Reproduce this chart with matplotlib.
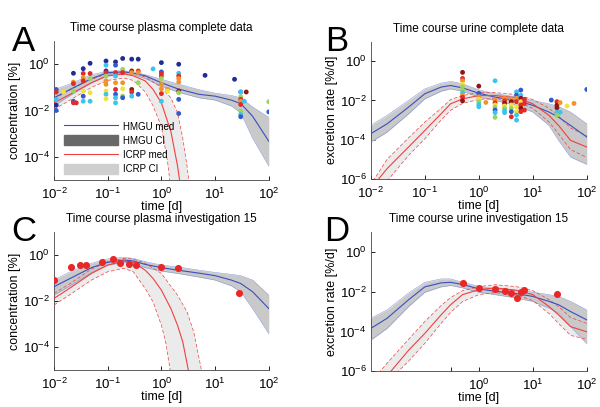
import numpy as np
import matplotlib
matplotlib.use("Agg")
import matplotlib.pyplot as plt
from matplotlib.lines import Line2D
from matplotlib.patches import Patch

plt.rcParams['font.family'] = ['Liberation Sans', 'DejaVu Sans']
plt.rcParams['mathtext.fontset'] = 'custom'
plt.rcParams['mathtext.rm'] = 'Liberation Sans'
plt.rcParams['mathtext.it'] = 'Liberation Sans:italic'

# all curve / point values below are log10 of the plotted quantity
t_grid = [0.01, 0.02, 0.05, 0.1, 0.2, 0.3, 0.5, 1, 2, 5, 10, 20, 30, 50, 100]

# panel A - plasma complete data
a_hmgu_med = [-1.45, -1.09, -0.62, -0.36, -0.33, -0.39, -0.5, -0.8, -1.06, -1.3, -1.38, -1.55, -1.7, -2.25, -3.33]
a_hmgu_hi = [-1.1, -0.85, -0.45, -0.3, -0.28, -0.33, -0.45, -0.65, -0.85, -1.1, -1.25, -1.35, -1.45, -1.85, -2.3]
a_hmgu_lo = [-1.8, -1.35, -0.8, -0.45, -0.4, -0.45, -0.62, -0.95, -1.2, -1.45, -1.55, -1.8, -2.1, -3.2, -4.4]
a_icrp_med_t = [0.01, 0.02, 0.05, 0.1, 0.2, 0.3, 0.5, 0.7, 1, 1.5, 2, 2.3]
a_icrp_med = [-1.67, -1.3, -0.8, -0.5, -0.42, -0.5, -0.72, -1.09, -1.67, -2.9, -4.4, -5.4]
a_icrp_hi_t = [0.01, 0.02, 0.05, 0.1, 0.2, 0.3, 0.5, 1, 1.5, 2, 2.5, 3, 3.4]
a_icrp_hi = [-1.5, -1.1, -0.65, -0.4, -0.32, -0.38, -0.55, -1.0, -1.45, -2.1, -3.2, -4.4, -5.4]
a_icrp_lo_t = [0.01, 0.02, 0.05, 0.1, 0.2, 0.3, 0.5, 0.7, 1, 1.3, 1.5]
a_icrp_lo = [-1.95, -1.55, -1.0, -0.7, -0.6, -0.7, -1.2, -1.8, -2.7, -4.2, -5.4]

a_pts_t = [0.011, 0.011, 0.011, 0.011, 0.011, 0.015,
           0.023, 0.023, 0.023, 0.023, 0.023, 0.023, 0.026,
           0.035, 0.035, 0.035, 0.035, 0.035, 0.035, 0.035,
           0.047, 0.047, 0.047, 0.047, 0.047,
           0.093, 0.093, 0.093, 0.093, 0.093, 0.093, 0.093, 0.093, 0.093, 0.093,
           0.14, 0.14, 0.14, 0.14, 0.14, 0.14, 0.14, 0.14, 0.14,
           0.19, 0.19, 0.19, 0.19, 0.19, 0.19, 0.19,
           0.28, 0.28, 0.28, 0.28, 0.28, 0.28,
           0.37, 0.37, 0.37, 0.37, 0.37,
           0.7,
           1.0, 1.0, 1.0, 1.0, 1.0, 1.0, 1.0, 1.0, 1.0, 1.3, 1.3,
           2.1, 2.1, 2.1, 2.1, 2.1, 2.1, 2.1, 2.1, 2.1,
           6.5, 23,
           30, 30, 30, 30, 30, 30, 30, 30, 30, 35, 38,
           100, 100]
a_pts_v = [-1.09, -1.2, -1.52, -1.77, -2.0, -1.2,
           -0.39, -0.77, -0.84, -1.16, -1.6, -1.67, -1.67,
           -0.19, -0.4, -0.58, -0.72, -1.16, -1.38, -1.6,
           0.04, -0.4, -0.62, -1.23, -1.6,
           0.14, -0.04, -0.29, -0.36, -0.51, -0.72, -0.87, -1.16, -1.3, -1.49,
           0.1, -0.04, -0.36, -0.51, -0.8, -1.09, -1.3, -1.45, -1.67,
           0.25, -0.22, -0.36, -0.8, -1.06, -1.38, -1.45,
           0.22, -0.29, -0.36, -1.09, -1.2, -1.38,
           0.22, -0.29, -0.36, -0.8, -1.3,
           -0.2,
           0.07, -0.33, -0.4, -0.51, -0.62, -0.87, -1.06, -1.27, -1.6, -1.09, -1.16,
           0.0, -0.39, -0.51, -0.62, -0.77, -1.16, -1.23, -1.52, -2.13,
           -0.48, -0.65,
           -1.2, -1.2, -1.41, -1.52, -1.6, -1.74, -2.03, -2.17, -2.27, -1.6, -1.2,
           -1.62, -2.06]
a_pts_c = ['b', 'r', 'c', 'db', 'b', 'y',
           'db', 'o', 'r', 'g', 'b', 'r', 'r',
           'db', 'r', 'o', 'r', 'y', 'b', 'c',
           'db', 'r', 'g', 'y', 'c',
           'db', 'c', 'db', 'r', 'g', 'o', 'o', 'y', 'c', 'y',
           'db', 'b', 'r', 'c', 'o', 'r', 'b', 'c', 'c',
           'db', 'g', 'r', 'o', 'y', 'g', 'b',
           'db', 'dr', 'o', 'dr', 'r', 'c',
           'db', 'r', 'o', 'g', 'b',
           'c',
           'db', 'b', 'r', 'r', 'g', 'o', 'o', 'r', 'c', 'o', 'y',
           'db', 'c', 'r', 'o', 'o', 'dr', 'g', 'b', 'b',
           'db', 'db',
           'b', 'c', 'g', 'r', 'o', 'r', 'g', 'c', 'b', 'c', 'dr',
           'g', 'b']

# panel B - urine complete data
b_hmgu_med = [-3.69, -3.19, -2.34, -1.66, -1.32, -1.24, -1.36, -1.63, -1.83, -2.0, -2.25, -2.59, -2.85, -3.27, -3.86]
b_hmgu_hi = [-3.27, -2.76, -2.0, -1.41, -1.12, -1.03, -1.15, -1.46, -1.66, -1.83, -2.0, -2.17, -2.31, -2.59, -3.19]
b_hmgu_lo = [-4.12, -3.61, -2.68, -1.92, -1.53, -1.41, -1.53, -1.83, -2.0, -2.25, -2.59, -3.27, -4.03, -4.88, -5.25]
b_icrp_med_t = [0.013, 0.02, 0.05, 0.1, 0.2, 0.3, 0.5, 1, 2, 5, 10, 20, 30, 50, 100]
b_icrp_med = [-6.1, -5.47, -4.37, -3.53, -2.68, -2.17, -1.92, -1.75, -1.75, -1.86, -2.17, -2.76, -3.27, -4.03, -4.37]
b_icrp_hi_t = [0.011, 0.02, 0.05, 0.1, 0.2, 0.3, 0.5, 1, 2, 5, 10, 20, 30, 50, 100]
b_icrp_hi = [-6.1, -5.0, -3.9, -3.1, -2.4, -1.95, -1.75, -1.6, -1.6, -1.7, -1.95, -2.4, -2.8, -3.4, -3.8]
b_icrp_lo_t = [0.02, 0.05, 0.1, 0.2, 0.3, 0.5, 1, 2, 5, 10, 20, 30, 50, 100]
b_icrp_lo = [-6.1, -4.8, -3.95, -3.0, -2.5, -2.15, -1.95, -1.9, -2.05, -2.4, -3.1, -3.7, -4.5, -4.9]

b_pts_t = [0.5] * 10 + [1.0] * 7 + [1.35] + [2.0] * 8 + [3.0] * 7 + [4.0] * 6 + [5.0] * 8 + \
          [6.0] * 7 + [7.0] * 3 + [22] + [28] * 5 + [32] * 2 + [43, 58, 100]
b_pts_v = [-0.57, -0.88, -1.0, -1.17, -1.3, -1.47, -1.61, -1.73, -1.84, -2.02,
           -1.27, -1.64, -1.81, -1.94, -2.06, -2.2, -2.32,
           -2.1,
           -1.0, -1.98, -2.12, -2.23, -2.35, -2.49, -2.62, -2.86,
           -1.89, -2.02, -2.15, -2.28, -2.4, -2.52, -2.62,
           -1.94, -2.06, -2.23, -2.4, -2.57, -2.83,
           -1.56, -1.73, -1.89, -2.06, -2.32, -2.57, -2.74, -3.0,
           -1.47, -1.73, -1.89, -2.06, -2.23, -2.4, -2.57,
           -1.94, -2.15, -2.49,
           -1.98,
           -2.06, -2.23, -2.37, -2.6, -2.74,
           -2.11, -2.6,
           -2.28, -2.15, -1.44]
b_pts_c = ['dr', 'r', 'o', 'y', 'g', 'g', 'c', 'o', 'r', 'dr',
           'dr', 'b', 'o', 'y', 'g', 'c', 'c',
           'o',
           'c', 'o', 'r', 'y', 'g', 'b', 'c', 'g',
           'o', 'r', 'dr', 'y', 'g', 'c', 'c',
           'o', 'dr', 'y', 'g', 'b', 'r',
           'c', 'b', 'o', 'r', 'y', 'y', 'c', 'c',
           'b', 'c', 'dr', 'y', 'r', 'dr', 'r',
           'r', 'r', 'r',
           'b',
           'r', 'dr', 'dr', 'c', 'g',
           'o', 'c',
           'y', 'o', 'b']

# panel C - plasma investigation 15
c_hmgu_med = [-1.38, -1.02, -0.55, -0.32, -0.22, -0.26, -0.41, -0.55, -0.66, -0.79, -0.9, -1.09, -1.24, -1.6, -2.33]
c_hmgu_hi = [-1.09, -0.73, -0.36, -0.17, -0.1, -0.15, -0.29, -0.44, -0.52, -0.66, -0.76, -0.84, -0.9, -1.09, -1.75]
c_hmgu_lo = [-1.75, -1.34, -0.76, -0.44, -0.33, -0.39, -0.55, -0.7, -0.8, -0.96, -1.09, -1.34, -1.6, -2.33, -3.42]
c_icrp_med_t = [0.01, 0.02, 0.05, 0.1, 0.2, 0.3, 0.5, 0.7, 1, 1.5, 2, 2.5, 3.3]
c_icrp_med = [-1.89, -1.43, -0.8, -0.44, -0.26, -0.32, -0.66, -1.02, -1.53, -2.33, -3.06, -3.78, -5.2]
c_icrp_hi_t = [0.01, 0.02, 0.05, 0.1, 0.2, 0.3, 0.5, 1, 2, 3, 4, 5.8]
c_icrp_hi = [-1.67, -1.24, -0.61, -0.29, -0.15, -0.17, -0.36, -0.8, -1.75, -2.47, -3.35, -5.2]
c_icrp_lo_t = [0.01, 0.02, 0.05, 0.1, 0.2, 0.3, 0.5, 0.7, 1, 1.2, 1.5]
c_icrp_lo = [-2.18, -1.72, -1.09, -0.73, -0.58, -0.73, -1.46, -2.04, -3.06, -3.78, -5.2]
c_pts_t = [0.01, 0.021, 0.03, 0.04, 0.08, 0.125, 0.17, 0.25, 0.33, 1.0, 2.0, 28]
c_pts_v = [-1.09, -0.54, -0.44, -0.44, -0.29, -0.19, -0.36, -0.39, -0.44, -0.51, -0.55, -1.67]

# panel D - urine investigation 15
d_hmgu_med = [-3.85, -3.34, -2.41, -1.76, -1.56, -1.53, -1.64, -1.86, -1.98, -2.1, -2.24, -2.49, -2.66, -3.0, -3.42]
d_hmgu_hi = [-3.34, -2.92, -2.07, -1.53, -1.36, -1.36, -1.53, -1.73, -1.86, -1.93, -2.03, -2.15, -2.24, -2.49, -2.92]
d_hmgu_lo = [-4.44, -3.85, -2.75, -2.03, -1.76, -1.69, -1.81, -2.03, -2.15, -2.32, -2.49, -2.83, -3.08, -3.76, -4.61]
d_icrp_med_t = [0.022, 0.05, 0.1, 0.2, 0.3, 0.5, 1, 2, 5, 10, 20, 30, 50, 100]
d_icrp_med = [-6.1, -4.95, -4.1, -3.17, -2.66, -2.15, -1.9, -1.81, -1.93, -2.15, -2.75, -3.17, -3.76, -4.02]
d_icrp_hi_t = [0.014, 0.02, 0.05, 0.1, 0.2, 0.3, 0.5, 1, 2, 5, 10, 20, 30, 50, 100]
d_icrp_hi = [-6.1, -5.6, -4.4, -3.5, -2.7, -2.3, -1.95, -1.75, -1.65, -1.75, -1.95, -2.4, -2.75, -3.3, -3.6]
d_icrp_lo_t = [0.03, 0.05, 0.1, 0.2, 0.3, 0.5, 1, 2, 5, 10, 20, 30, 50, 100]
d_icrp_lo = [-6.1, -5.5, -4.6, -3.6, -3.05, -2.5, -2.15, -2.05, -2.15, -2.45, -3.1, -3.6, -4.2, -4.4]
d_pts_t = [0.5, 1.0, 2.0, 3.0, 4.0, 5.0, 6.0, 7.0, 28]
d_pts_v = [-1.59, -1.81, -1.86, -1.98, -2.07, -2.32, -2.03, -1.92, -2.10]

dot_colors = {'db': '#1f2d95', 'b': '#2f5ad0', 'c': '#3cc3ee', 'g': '#9bd45a',
              'y': '#f2e23a', 'o': '#f2922a', 'r': '#e32a2a', 'dr': '#8e1616'}

BLUE = '#3a4fc0'
EDGE_BLUE = '#7f8fd8'
RED = '#f04040'
HMGU_FILL = '#c9c9c9'
ICRP_FILL = '#ebebeb'


def p10(v):
    return 10.0 ** np.asarray(v, dtype=float)


def draw_panel(ax, hmed, hhi, hlo, rmed_t, rmed, rhi_t, rhi, rlo_t, rlo):
    # ICRP band
    xs = list(rhi_t) + list(rlo_t)[::-1]
    ys = list(rhi) + list(rlo)[::-1]
    ax.fill(xs, p10(ys), color=ICRP_FILL, lw=0, zorder=1)
    # HMGU band
    ax.fill_between(t_grid, p10(hlo), p10(hhi), color=HMGU_FILL, lw=0, zorder=2)
    ax.plot(t_grid, p10(hhi), color=EDGE_BLUE, lw=0.35, zorder=3)
    ax.plot(t_grid, p10(hlo), color=EDGE_BLUE, lw=0.35, zorder=3)
    ax.plot(rhi_t, p10(rhi), color=RED, lw=0.5, ls=(0, (5, 3)), zorder=3)
    ax.plot(rlo_t, p10(rlo), color=RED, lw=0.5, ls=(0, (5, 3)), zorder=3)
    ax.plot(t_grid, p10(hmed), color=BLUE, lw=0.8, zorder=4)
    ax.plot(rmed_t, p10(rmed), color=RED, lw=0.8, zorder=4)


def style(ax, ylo, yticks, ylabel, title, letter, lx, xticks=None):
    ax.set_xscale('log')
    ax.set_yscale('log')
    ax.set_xlim(1e-2, 1e2)
    ax.set_ylim(ylo, 1e1)
    if xticks is None:
        ax.set_xticks([1e-2, 1e-1, 1e0, 1e1, 1e2])
    else:
        ax.set_xticks(xticks[0])
        ax.set_xticklabels(xticks[1])
    ax.set_yticks(yticks)
    ax.minorticks_off()
    ax.spines['top'].set_visible(False)
    ax.spines['right'].set_visible(False)
    for s in ('left', 'bottom'):
        ax.spines[s].set_linewidth(0.6)
        ax.spines[s].set_color('#444444')
    ax.tick_params(direction='in', length=3, width=0.6, labelsize=9.5)
    ax.tick_params(axis='x', pad=5)
    ax.tick_params(axis='y', pad=3)
    ax.set_xlabel('time [d]', fontsize=9, labelpad=-1)
    ax.set_ylabel(ylabel, fontsize=9, labelpad=1)
    ax.set_title(title, fontsize=8.5, pad=7)
    ax.text(lx, 1.0, letter, transform=ax.transAxes, fontsize=25, va='center', ha='center')


fig = plt.figure(figsize=(6.0, 4.07), dpi=100)
axA = fig.add_axes([0.09, 0.558, 0.358, 0.341])
axB = fig.add_axes([0.618, 0.56, 0.36, 0.338])
axC = fig.add_axes([0.09, 0.091, 0.358, 0.339])
axD = fig.add_axes([0.618, 0.088, 0.36, 0.342])

# A
draw_panel(axA, a_hmgu_med, a_hmgu_hi, a_hmgu_lo, a_icrp_med_t, a_icrp_med,
           a_icrp_hi_t, a_icrp_hi, a_icrp_lo_t, a_icrp_lo)
axA.scatter(a_pts_t, p10(a_pts_v), s=12, c=[dot_colors[k] for k in a_pts_c], lw=0, zorder=5)
style(axA, 1e-5, [1e-4, 1e-2, 1e0], 'concentration [%]', 'Time course plasma complete data', 'A', -0.14)
handles = [Line2D([], [], color=BLUE, lw=0.8), Patch(color='#686868'),
           Line2D([], [], color=RED, lw=0.8), Patch(color='#cfcfcf')]
axA.legend(handles, ['HMGU med', 'HMGU CI', 'ICRP med', 'ICRP CI'], loc='lower left',
           bbox_to_anchor=(0.02, 0.0), frameon=False, fontsize=7, handlelength=5.5,
           handleheight=1.2, labelspacing=0.4, handletextpad=0.6, borderaxespad=0.2)

# B
draw_panel(axB, b_hmgu_med, b_hmgu_hi, b_hmgu_lo, b_icrp_med_t, b_icrp_med,
           b_icrp_hi_t, b_icrp_hi, b_icrp_lo_t, b_icrp_lo)
axB.scatter(b_pts_t, p10(b_pts_v), s=12, c=[dot_colors[k] for k in b_pts_c], lw=0, zorder=5)
style(axB, 1e-6, [1e-6, 1e-4, 1e-2, 1e0], 'excretion rate [%/d]', 'Time course urine complete data', 'B', -0.157)

# C
draw_panel(axC, c_hmgu_med, c_hmgu_hi, c_hmgu_lo, c_icrp_med_t, c_icrp_med,
           c_icrp_hi_t, c_icrp_hi, c_icrp_lo_t, c_icrp_lo)
axC.scatter(c_pts_t, p10(c_pts_v), s=26, c='#e82828', lw=0, zorder=5)
style(axC, 1e-5, [1e-4, 1e-2, 1e0], 'concentration [%]', 'Time course plasma investigation 15', 'C', -0.14)

# D
draw_panel(axD, d_hmgu_med, d_hmgu_hi, d_hmgu_lo, d_icrp_med_t, d_icrp_med,
           d_icrp_hi_t, d_icrp_hi, d_icrp_lo_t, d_icrp_lo)
axD.scatter(d_pts_t, p10(d_pts_v), s=26, c='#e82828', lw=0, zorder=5)
style(axD, 1e-6, [1e-6, 1e-4, 1e-2, 1e0], 'excretion rate [%/d]', 'Time course urine investigation 15', 'D', -0.157,
      xticks=([0.3, 1e0, 1e1, 1e2], ['', '$10^{0}$', '$10^{1}$', '$10^{2}$']))

fig.savefig('out.png', dpi=100)
